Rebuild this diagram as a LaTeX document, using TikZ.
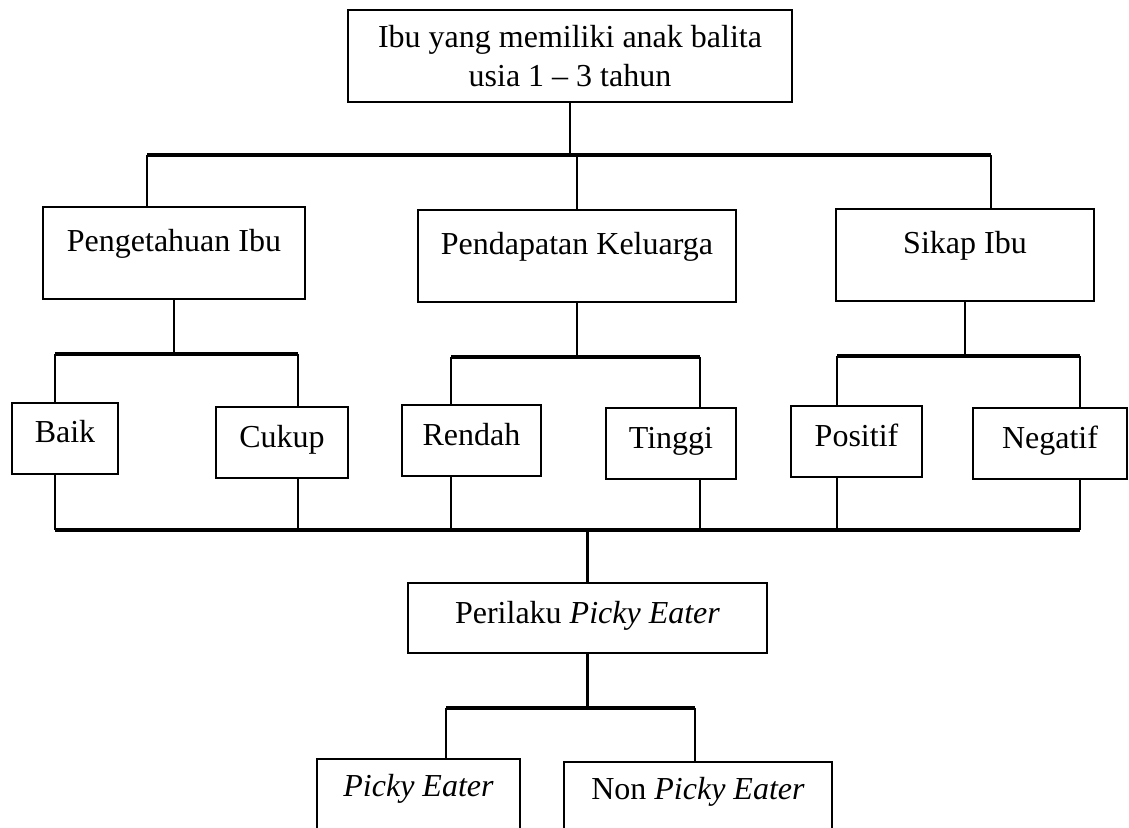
\documentclass[tikz,border=0pt]{standalone}
\usepackage{fontspec}
\setmainfont{Liberation Serif}
\usepackage{tikz}

\begin{document}
\begin{tikzpicture}[
		x=0.5pt, y=-0.5pt,% one unit = one pixel of the page
		line width=1.3pt,
		every node/.style = {font=\fontsize{16}{19.5}\selectfont},
		box/.style = {rectangle, draw, inner sep=0pt, outer sep=0pt},
		topbox/.style = {box, minimum height=46pt, align=center},
		groupbox/.style = {box, anchor=north west,
			text height=22.5pt, text depth=23.5pt},
		leafbox/.style = {box, anchor=north west,
			text height=20pt, text depth=15.5pt},
		busline/.style = {line width=1.6pt},
		]
		\clip (0,0) rectangle (1129,828);
		% first and second row
		\node[topbox, minimum width=222pt] (ibu) at (570,56) {Ibu yang memiliki anak balita\\usia 1 -- 3 tahun};
		\node[groupbox, minimum width=131pt] (tahu) at (43,207) {Pengetahuan Ibu};
		\node[groupbox, minimum width=159pt] (dapat) at (418,210) {Pendapatan Keluarga};
		\node[groupbox, minimum width=129pt] (sikap) at (836,209) {Sikap Ibu};
		% answers of each variable
		\foreach \n/\x/\y/\w/\t in {baik/12/403/53/Baik, cukup/216/407/66/Cukup,
			rendah/402/405/69.5/Rendah, tinggi/606/408/65/Tinggi,
			positif/791/406/65.5/Positif, negatif/973/408/77/Negatif}
		\node[leafbox, minimum width=\w pt] (\n) at (\x,\y) {\t};
		\node[leafbox, minimum width=179.5pt, text depth=15pt] (perilaku) at (408,583) {Perilaku \textit{Picky Eater}};
		\node[leafbox, minimum width=101.5pt, text height=18.5pt, text depth=40pt] (picky) at (317,759) {\textit{Picky Eater}};
		\node[leafbox, minimum width=134pt, text height=18.5pt, text depth=40pt] (non) at (564,762) {Non \textit{Picky Eater}};
		% bus ends
		\coordinate (a1) at (147,155);
		\coordinate (a2) at (991,155);
		\coordinate (b1) at (55,354);
		\coordinate (b2) at (298,354);
		\coordinate (b3) at (451,357);
		\coordinate (b4) at (700,357);
		\coordinate (b5) at (837,356);
		\coordinate (b6) at (1080,356);
		\coordinate (c1) at (55,530);
		\coordinate (c2) at (1080,530);
		\coordinate (d1) at (446,708);
		\coordinate (d2) at (695,708);
		\draw[busline] (a1) -- (a2) (b1) -- (b2) (b3) -- (b4) (b5) -- (b6)
			(c1) -- (c2) (d1) -- (d2);
		\draw (ibu) -- (ibu |- a1);
		\draw (a1) -- (a1 |- tahu.north) (dapat) -- (dapat |- a1) (a2) -- (a2 |- sikap.north);
		\draw (tahu) -- (tahu |- b1) (dapat) -- (dapat |- b3) (sikap) -- (sikap |- b5);
		\foreach \j/\n in {b1/baik, b2/cukup, b3/rendah, b4/tinggi, b5/positif, b6/negatif}
		\draw (\j) -- (\j |- \n.north) (\j |- \n.south) -- (\j |- c1);
		\draw (perilaku) -- (perilaku |- c1);
		\draw (perilaku) -- (perilaku |- d1) (d1) -- (d1 |- picky.north) (d2) -- (d2 |- non.north);
	\end{tikzpicture}
\end{document}
